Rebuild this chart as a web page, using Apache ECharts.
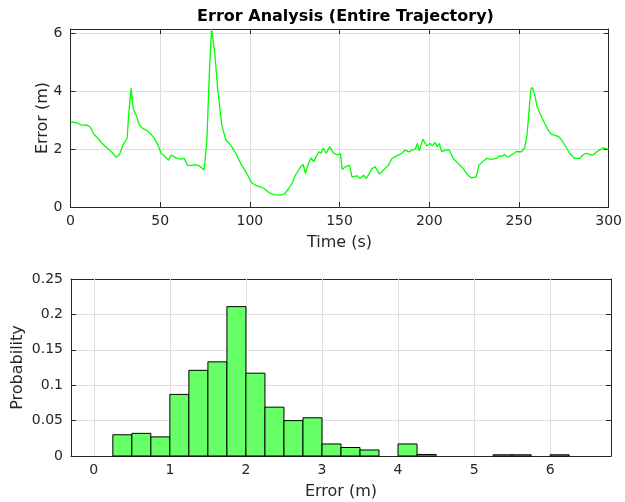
<!DOCTYPE html>
<html><head><meta charset="utf-8">
<script src="https://cdn.jsdelivr.net/npm/echarts@6/dist/echarts.min.js"></script>
<style>html,body{margin:0;padding:0;background:#fff}#c{width:625px;height:502px}</style>
</head><body><div id="c"></div>
<script>
const times = [0,0.5,4.2,6,9.7,11.2,13,15.3,17.1,19,
21.7,23.6,25.5,27.3,29.2,31.6,32.3,33,33.8,34.9,
36.6,38.4,40.3,43,44.9,46.4,48.6,50.5,52.3,54.7,
56,58.8,61.6,63.4,65.3,67.1,69,71.7,74.5,76,
77.3,78.6,80.5,82,84.3,86.6,89.3,92.1,94.9,98.6,
100.8,103.2,105.8,107.9,110.6,113.4,117.1,119.3,121.7,123.6,
125.4,127.3,128.2,129.7,131,132.3,134.1,135.6,137.1,138.4,
139.7,140.8,142.6,144.5,146.3,148.6,150.5,151.5,153.2,155.6,
156.9,159.7,161.5,163.4,164.9,166.2,168,169.9,172.3,174.5,
177.3,179.2,181.9,184.7,186.6,188.4,190.3,192.1,193.4,194.5,
196.4,198.6,200.5,201.9,203.2,204.5,205.6,206.9,208.8,211.1,
213.4,216.1,218.9,221.6,223.5,226.2,227.7,229.9,231.8,234.6,
237.4,239.2,240.7,242,243.9,246.3,248.6,251.4,253.2,254.5,
255.6,256.6,257.5,258.8,260.1,261.9,264.3,266.2,268,270.5,
272.3,274.5,276.4,278.2,281,283.8,285.6,287.5,289.3,291.2,
293,294.8,297,299.4,300];
const errors = [2.95,2.93,2.9,2.84,2.82,2.75,2.52,2.38,2.24,2.12,
1.97,1.86,1.72,1.82,2.14,2.38,3.07,3.6,4.12,3.42,
3.17,2.84,2.72,2.63,2.52,2.4,2.17,1.86,1.77,1.62,
1.8,1.70,1.66,1.68,1.45,1.43,1.47,1.43,1.28,2.26,
4.46,6.16,5.28,4.12,2.84,2.32,2.14,1.86,1.51,1.13,
0.85,0.75,0.70,0.64,0.5,0.43,0.41,0.45,0.64,0.83,
1.1,1.28,1.39,1.47,1.16,1.45,1.7,1.57,1.77,1.91,
1.86,2.03,1.86,2.09,1.89,1.8,1.85,1.3,1.39,1.45,
1.04,1.08,0.99,1.1,0.99,1.12,1.33,1.39,1.14,1.28,
1.45,1.68,1.77,1.86,1.97,1.91,1.97,2.0,2.2,1.94,
2.35,2.11,2.2,2.12,2.24,2.09,2.2,1.91,1.97,1.97,
1.68,1.51,1.33,1.1,1.01,1.04,1.45,1.57,1.68,1.65,
1.68,1.77,1.76,1.82,1.72,1.82,1.92,1.91,2.05,2.49,
3.3,4.06,4.14,3.88,3.48,3.21,2.9,2.67,2.52,2.47,
2.43,2.26,2.05,1.86,1.68,1.68,1.8,1.86,1.82,1.8,
1.89,1.97,2.05,2.0,2.0];
const binStarts = [0.25,0.5,0.75,1.0,1.25,1.5,1.75,2.0,2.25,2.5,2.75,3.0,3.25,3.5,4.0,4.25,5.25,5.5,6.0];
const binProb   = [0.030,0.032,0.027,0.087,0.121,0.133,0.211,0.117,0.069,0.050,0.054,0.017,0.012,0.0085,0.017,0.0022,0.0017,0.0017,0.0017];
const binWidth = 0.25;
const timeTicks = [0,50,100,150,200,250,300];
const errTicks = [0,2,4,6];
const histXTicks = [0,1,2,3,4,5,6];
const probTicks = [0,0.05,0.1,0.15,0.2,0.25];

const FONT = 'DejaVu Sans';
const AX = '#262626';
const GRIDC = '#dedede';
const lbl = {color: AX, fontFamily: FONT, fontSize: 14};
const nameStyle = {color: AX, fontFamily: FONT, fontSize: 16};

function mainAxis(extra) {
  return Object.assign({
    type: 'value',
    axisLine: {show: true, onZero: false, lineStyle: {color: AX, width: 1}},
    axisTick: {show: true, inside: true, length: 5, lineStyle: {color: AX}},
    splitLine: {show: true, lineStyle: {color: GRIDC, width: 1}},
    axisLabel: Object.assign({}, lbl),
    nameTextStyle: nameStyle,
    nameLocation: 'middle',
    nameMoveOverlap: false
  }, extra);
}
function mirrorAxis(extra) {
  return Object.assign({
    type: 'value',
    axisLine: {show: true, onZero: false, lineStyle: {color: AX, width: 1}},
    axisTick: {show: true, inside: true, length: 5, lineStyle: {color: AX}},
    splitLine: {show: false},
    axisLabel: {show: false}
  }, extra);
}
const onlyIn = arr => (v => arr.some(a => Math.abs(a - v) < 1e-9) ? String(v) : '');

const chart = echarts.init(document.getElementById('c'), null, {renderer: 'canvas'});
chart.setOption({
  backgroundColor: '#fff',
  animation: false,
  title: {
    text: 'Error Analysis (Entire Trajectory)',
    left: 340.5, top: 4, textAlign: 'center',
    textStyle: {fontFamily: FONT, fontWeight: 'bold', fontSize: 16, color: '#000'}
  },
  grid: [
    {left: 70.5, top: 29, width: 540, height: 178},
    {left: 71, top: 279, width: 540, height: 177}
  ],
  xAxis: [
    mainAxis({gridIndex: 0, min: 0, max: 300, interval: 50, name: 'Time (s)', nameGap: 28,
      axisLabel: Object.assign({}, lbl, {margin: 7, formatter: onlyIn(timeTicks)})}),
    mirrorAxis({gridIndex: 0, position: 'top', min: 0, max: 300, interval: 50}),
    mainAxis({gridIndex: 1, min: -0.3, max: 6.8, name: 'Error (m)', nameGap: 28,
      splitLine: {show: false},
      axisTick: {show: true, inside: true, length: 5, lineStyle: {color: AX}, customValues: histXTicks},
      axisLabel: Object.assign({}, lbl, {margin: 7, customValues: histXTicks})}),
    mirrorAxis({gridIndex: 1, position: 'top', min: -0.3, max: 6.8,
      axisTick: {show: true, inside: true, length: 5, lineStyle: {color: AX}, customValues: histXTicks}})
  ],
  yAxis: [
    mainAxis({gridIndex: 0, min: 0, max: 6.16, interval: 2, name: 'Error (m)', nameGap: 20,
      axisLabel: Object.assign({}, lbl, {margin: 8, formatter: onlyIn(errTicks)})}),
    mirrorAxis({gridIndex: 0, position: 'right', min: 0, max: 6.16, interval: 2}),
    mainAxis({gridIndex: 1, min: 0, max: 0.25, interval: 0.05, name: 'Probability', nameGap: 45,
      axisLabel: Object.assign({}, lbl, {margin: 8, formatter: onlyIn(probTicks)})}),
    mirrorAxis({gridIndex: 1, position: 'right', min: 0, max: 0.25, interval: 0.05})
  ],
  series: [
    {
      type: 'line', xAxisIndex: 0, yAxisIndex: 0,
      data: times.map((t, i) => [t, errors[i]]),
      showSymbol: false, symbol: 'none',
      lineStyle: {color: '#00ff00', width: 1.3},
      z: 5
    },
    {
      type: 'line', xAxisIndex: 2, yAxisIndex: 2, data: [], z: 1, silent: true,
      markLine: {
        silent: true, symbol: ['none', 'none'], label: {show: false},
        lineStyle: {color: GRIDC, width: 1, type: 'solid'},
        data: histXTicks.map(v => ({xAxis: v}))
      }
    },
    {
      type: 'custom', xAxisIndex: 2, yAxisIndex: 2,
      data: binStarts.map((s, i) => [s, s + binWidth, binProb[i]]),
      renderItem: function (params, api) {
        const p0 = api.coord([api.value(0), api.value(2)]);
        const p1 = api.coord([api.value(1), 0]);
        return {
          type: 'rect',
          shape: {x: p0[0], y: p0[1], width: p1[0] - p0[0], height: p1[1] - p0[1]},
          style: {fill: '#66ff66', stroke: '#000', lineWidth: 1}
        };
      },
      encode: {x: [0, 1], y: 2},
      z: 5
    }
  ]
});
</script></body></html>
